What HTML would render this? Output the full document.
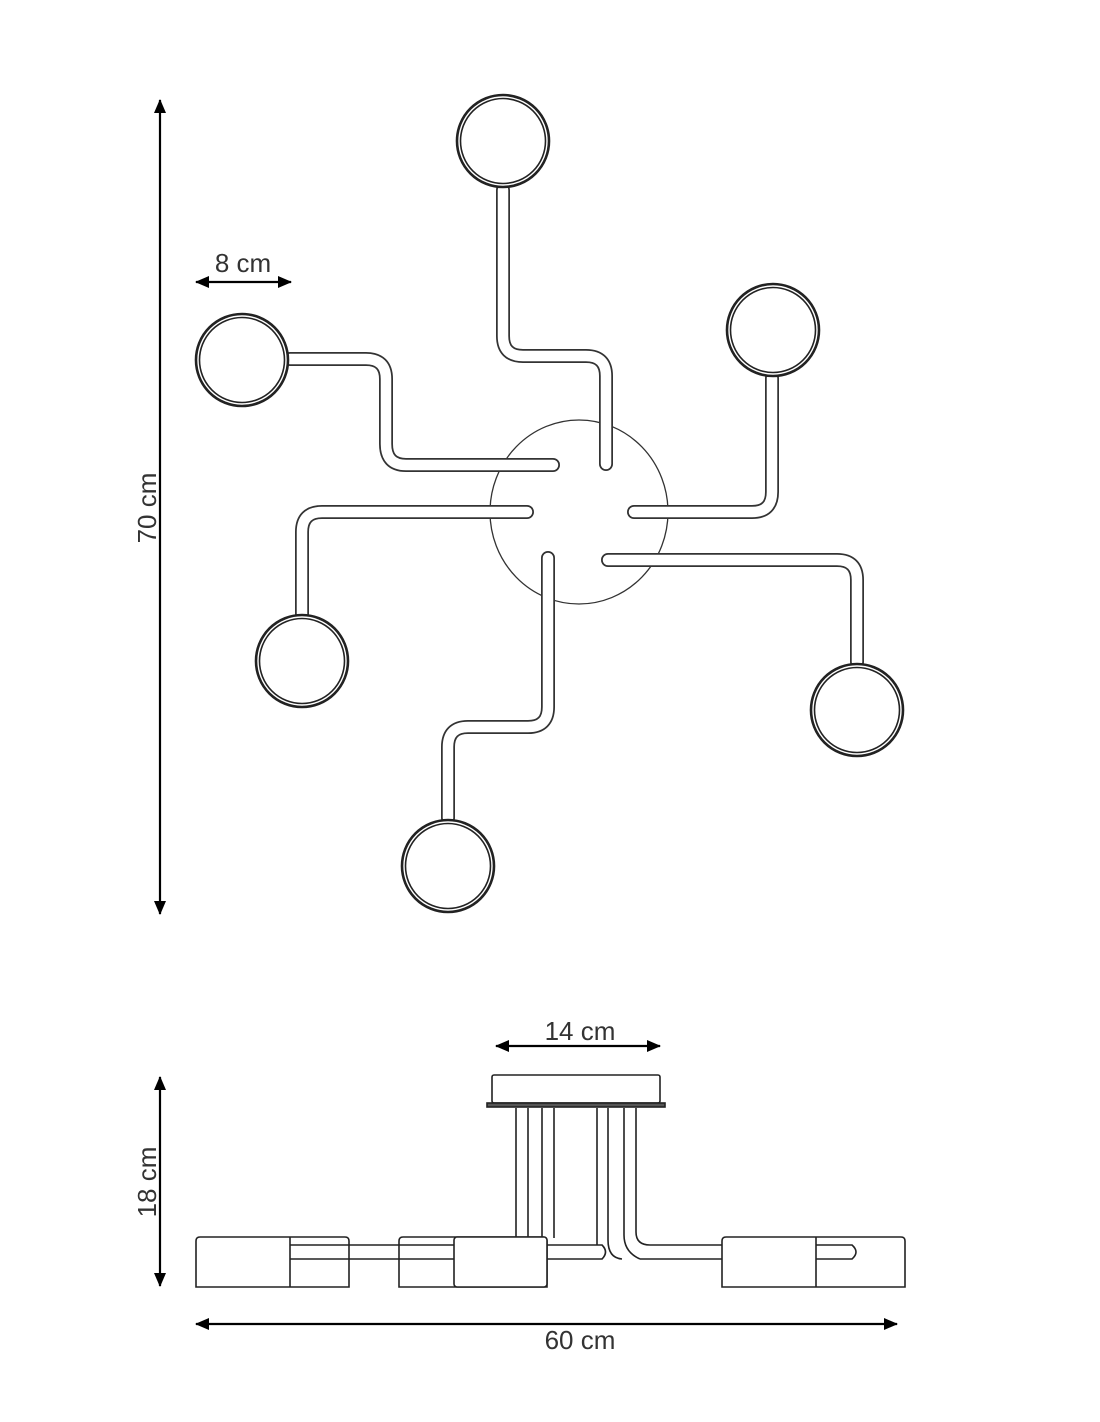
<!DOCTYPE html>
<html><head><meta charset="utf-8"><style>
html,body{margin:0;padding:0;background:#fff;}
svg{display:block;}
text{font-family:"Liberation Sans",sans-serif;fill:#333;}
</style></head><body>
<svg width="1100" height="1422" viewBox="0 0 1100 1422" xmlns="http://www.w3.org/2000/svg">
<defs>
<marker id="ah" viewBox="0 0 14 12" refX="13" refY="6" markerWidth="14" markerHeight="12" markerUnits="userSpaceOnUse" orient="auto-start-reverse"><path d="M0,0 L14,6 L0,12 z" fill="#000"/></marker>
</defs>
<rect width="1100" height="1422" fill="#fff"/>

<g stroke="#000" stroke-width="2.2" fill="none">
<line x1="160" y1="100" x2="160" y2="914" marker-start="url(#ah)" marker-end="url(#ah)"/>
<line x1="196" y1="282" x2="291" y2="282" marker-start="url(#ah)" marker-end="url(#ah)"/>
<line x1="496" y1="1046" x2="660" y2="1046" marker-start="url(#ah)" marker-end="url(#ah)"/>
<line x1="160" y1="1077" x2="160" y2="1286" marker-start="url(#ah)" marker-end="url(#ah)"/>
<line x1="196" y1="1324" x2="897" y2="1324" marker-start="url(#ah)" marker-end="url(#ah)"/>
</g>
<text x="243" y="272" font-size="26" text-anchor="middle">8 cm</text>
<text x="580" y="1040" font-size="26" text-anchor="middle">14 cm</text>
<text x="580" y="1349" font-size="26" text-anchor="middle">60 cm</text>
<text transform="translate(156,508) rotate(-90)" font-size="26" text-anchor="middle">70 cm</text>
<text transform="translate(156,1182) rotate(-90)" font-size="26" text-anchor="middle">18 cm</text>

<ellipse cx="579" cy="512" rx="89" ry="92" fill="#fff" stroke="#333" stroke-width="1.3"/>
<g fill="none" stroke-linecap="round" stroke-linejoin="round">
<g stroke="#333" stroke-width="14">
<path d="M503,190 V336 Q503,356 523,356 H586 Q606,356 606,376 V464"/>
<path d="M290,359 H366 Q386,359 386,379 V444 Q386,465 406,465 H553"/>
<path d="M772,378 V492 Q772,512 752,512 H634"/>
<path d="M302,614 V532 Q302,512 322,512 H527"/>
<path d="M857,662 V580 Q857,560 837,560 H608"/>
<path d="M448,818 V747 Q448,727 468,727 H528 Q548,727 548,707 V558"/>
</g>
<g stroke="#fff" stroke-width="10.5">
<path d="M503,190 V336 Q503,356 523,356 H586 Q606,356 606,376 V464"/>
<path d="M290,359 H366 Q386,359 386,379 V444 Q386,465 406,465 H553"/>
<path d="M772,378 V492 Q772,512 752,512 H634"/>
<path d="M302,614 V532 Q302,512 322,512 H527"/>
<path d="M857,662 V580 Q857,560 837,560 H608"/>
<path d="M448,818 V747 Q448,727 468,727 H528 Q548,727 548,707 V558"/>
</g>
</g>
<g fill="#fff" stroke="#222">
<g stroke-width="2.6"><circle cx="503" cy="141" r="46"/><circle cx="242" cy="360" r="46"/><circle cx="773" cy="330" r="46"/><circle cx="302" cy="661" r="46"/><circle cx="857" cy="710" r="46"/><circle cx="448" cy="866" r="46"/></g>
<g stroke-width="1.6" fill="none"><circle cx="503" cy="141" r="42.5"/><circle cx="242" cy="360" r="42.5"/><circle cx="773" cy="330" r="42.5"/><circle cx="302" cy="661" r="42.5"/><circle cx="857" cy="710" r="42.5"/><circle cx="448" cy="866" r="42.5"/></g>
</g>

<g fill="#fff" stroke="#222" stroke-width="1.6">
<rect x="492" y="1075" width="168" height="28" rx="2"/>
<rect x="487" y="1103" width="178" height="4" fill="#555"/>
<path d="M516,1108 V1238 M528,1108 V1238 M542,1108 V1238 M554,1108 V1238 M597,1108 V1245 M608,1108 V1240 Q608,1258 622,1259 M624,1108 V1235 Q624,1252 640,1259 M636,1108 V1232 Q636,1245 650,1245 H722 M640,1259 H722" fill="none"/>
<path d="M290,1245 H460 M290,1259 H460 M547,1245 H602 Q609,1252 602,1259 H547" fill="none"/>
<path d="M196,1287 V1241 Q196,1237 200,1237 H345 Q349,1237 349,1241 V1287 Z"/>
<line x1="290" y1="1237" x2="290" y2="1287"/>
<path d="M290,1245 H349 M290,1259 H349"/>
<path d="M399,1287 V1241 Q399,1237 403,1237 H543 Q547,1237 547,1241 V1287 Z"/>
<path d="M399,1245 H454 M399,1259 H454"/>
<rect x="454" y="1237" width="93" height="50" rx="3"/>
<path d="M722,1287 V1241 Q722,1237 726,1237 H901 Q905,1237 905,1241 V1287 Z"/>
<line x1="816" y1="1237" x2="816" y2="1287"/>
<path d="M816,1245 H852 Q860,1252 852,1259 H816" fill="none"/>
</g>
</svg>
</body></html>
